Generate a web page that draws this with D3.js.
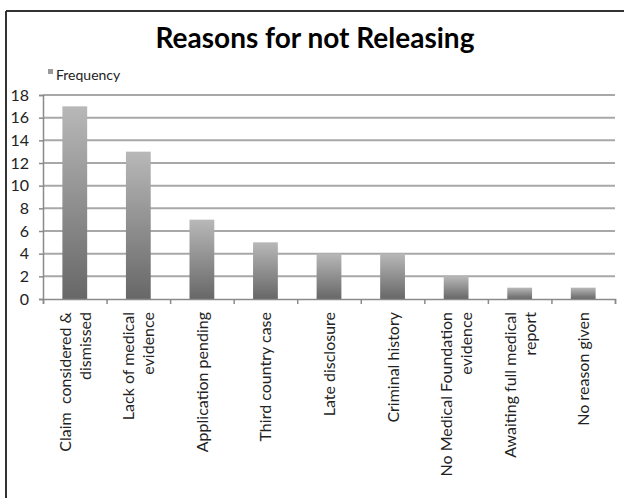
<!DOCTYPE html>
<html><head><meta charset="utf-8">
<script src="https://cdn.jsdelivr.net/npm/d3@7"></script>
<style>body{margin:0;background:#fff}svg{display:block}text{font-family:Lato,"Open Sans",sans-serif}</style>
</head><body>
<script>
const categories = [
  ["Claim  considered &","dismissed"],
  ["Lack of medical","evidence"],
  ["Application pending"],
  ["Third country case"],
  ["Late disclosure"],
  ["Criminal history"],
  ["No Medical Foundation","evidence"],
  ["Awaiting full medical","report"],
  ["No reason given"]
];
const values = [17, 13, 7, 5, 4, 4, 2, 1, 1];
const yTicks = [0, 2, 4, 6, 8, 10, 12, 14, 16, 18];
const seriesName = "Frequency";
const title = "Reasons for not Releasing";

const W = 624, H = 498;
const m = {left: 43, right: 9, top: 95, bottom: 199};
const svg = d3.select("body").append("svg").attr("width", W).attr("height", H);

const defs = svg.append("defs");
const grad = defs.append("linearGradient").attr("id","barGrad").attr("x1",0).attr("y1",0).attr("x2",0).attr("y2",1);
grad.append("stop").attr("offset","0%").attr("stop-color","#b8b8b8");
grad.append("stop").attr("offset","100%").attr("stop-color","#676767");

// frame
svg.append("line").attr("x1",6).attr("x2",W).attr("y1",11).attr("y2",11).attr("stroke","#333").attr("stroke-width",2);
svg.append("line").attr("x1",6).attr("x2",6).attr("y1",11).attr("y2",H).attr("stroke","#333").attr("stroke-width",2);

const x = d3.scaleBand().domain(d3.range(categories.length)).range([m.left, W - m.right]).paddingInner(0.61).paddingOuter(0.305);
const xb = d3.scaleLinear().domain([0, categories.length]).range([m.left, W - m.right]);
const y = d3.scaleLinear().domain([0, 18]).range([H - m.bottom, m.top]);

// gridlines
svg.append("g").selectAll("line").data(yTicks.filter(d=>d>0)).join("line")
  .attr("x1", m.left).attr("x2", W - m.right)
  .attr("y1", d=>y(d)).attr("y2", d=>y(d))
  .attr("stroke","#a8a8a8").attr("stroke-width",2);

// y axis
const yAxis = svg.append("g").attr("transform",`translate(${m.left},0)`)
  .call(d3.axisLeft(y).tickValues(yTicks).tickSize(4).tickPadding(10));
yAxis.select(".domain").attr("stroke","#8a8a8a").attr("stroke-width",1.5);
yAxis.selectAll(".tick line").attr("stroke","#8a8a8a").attr("stroke-width",1.5);
yAxis.selectAll("text").attr("font-size",16).attr("fill","#222").attr("font-family","Lato");

// bars
svg.append("g").selectAll("rect").data(values).join("rect")
  .attr("x",(d,i)=>x(i)).attr("width",x.bandwidth())
  .attr("y",d=>y(d)).attr("height",d=>y(0)-y(d))
  .attr("fill","url(#barGrad)");

// x axis
const xAxis = svg.append("g").attr("transform",`translate(0,${y(0)})`)
  .call(d3.axisBottom(xb).tickValues(d3.range(categories.length+1)).tickSize(5).tickFormat(""));
xAxis.select(".domain").attr("stroke","#8a8a8a").attr("stroke-width",1.5);
xAxis.selectAll(".tick line").attr("stroke","#8a8a8a").attr("stroke-width",1.5);

// x labels
const lh = 20;
const lab = svg.append("g").selectAll("text").data(categories).join("text")
  .attr("transform",(d,i)=>{
    const cx = x(i) + x.bandwidth()/2;
    return `translate(${cx},312) rotate(-90)`;
  })
  .attr("text-anchor","end").attr("font-size",16).attr("fill","#222")
  .style("white-space","pre");
lab.each(function(d){
  const n = d.length;
  d3.select(this).selectAll("tspan").data(d).join("tspan")
    .attr("x",0).attr("y",(t,j)=> (j - (n-1)/2)*lh + 6)
    .text(t=>t);
});

// title
svg.append("text").attr("x",315).attr("y",48).attr("text-anchor","middle")
  .attr("font-size",28).attr("font-weight","bold").attr("fill","#000").text(title);

// legend
svg.append("rect").attr("x",48).attr("y",69).attr("width",5).attr("height",5).attr("fill","#9a9a9a");
svg.append("text").attr("x",56).attr("y",80).attr("font-size",14).attr("fill","#222").text(seriesName);
</script>
</body></html>
